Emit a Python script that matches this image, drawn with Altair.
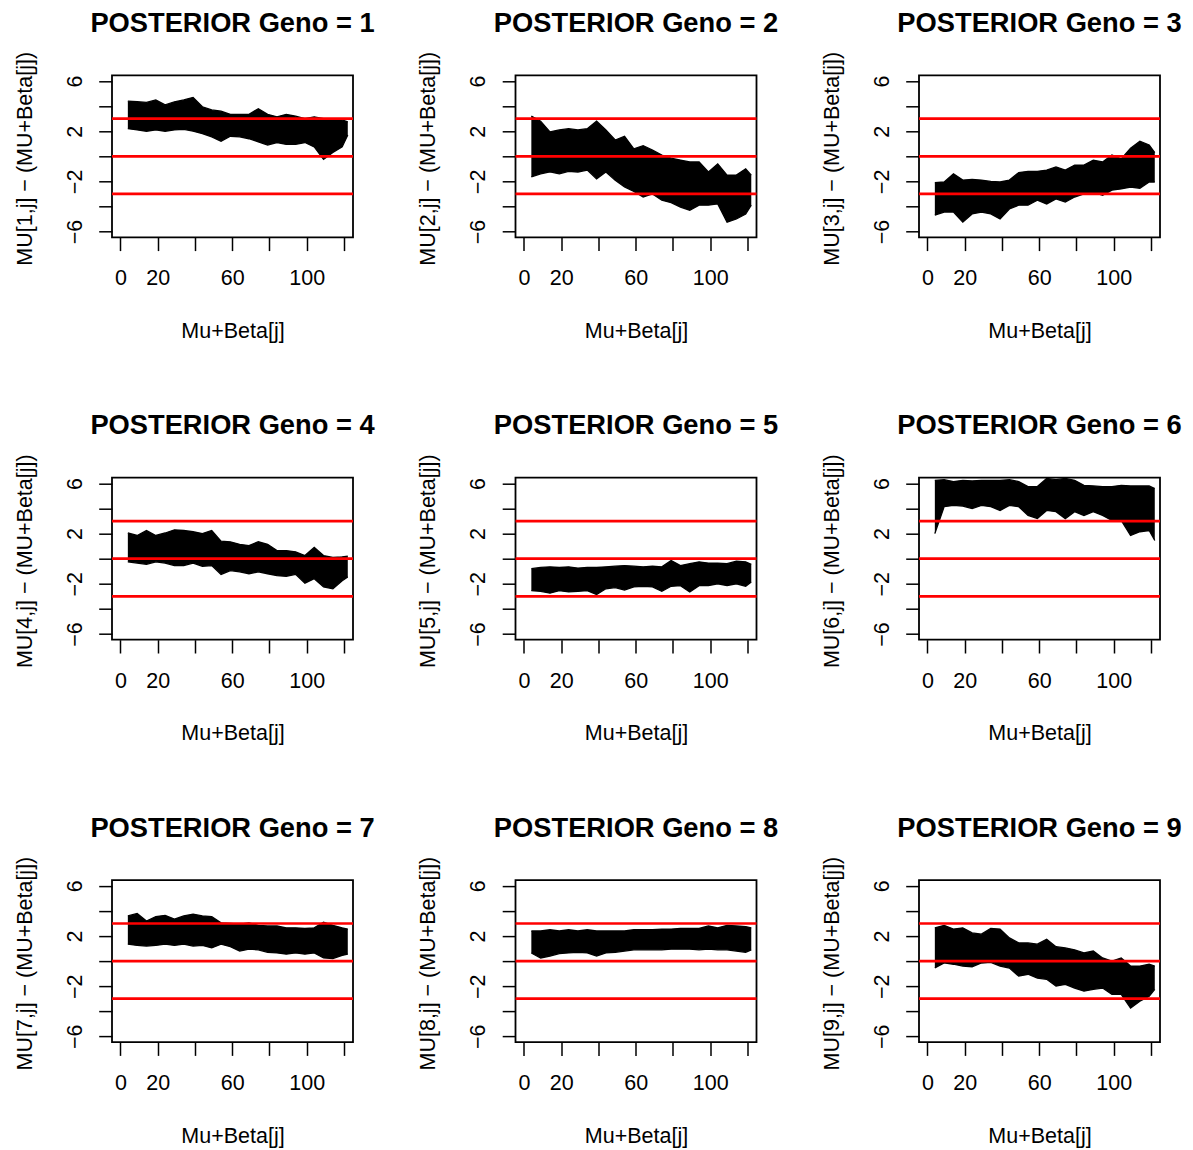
import altair as alt
import pandas as pd

# ---- data ----
x_pos = [4, 9, 14, 19, 24, 29, 34, 39, 44, 49, 54, 59, 64, 69, 74, 79, 84, 89, 94, 99, 104, 109, 114, 119, 122]

hi_1 = [4.4, 4.35, 4.3, 4.5, 4.1, 4.35, 4.5, 4.7, 3.95, 3.7, 3.6, 3.35, 3.35, 3.35, 3.8, 3.35, 3.15, 3.35, 3.2, 3.0, 3.15, 3.0, 2.9, 2.9, 2.75]
lo_1 = [2.2, 2.1, 2.0, 2.1, 2.0, 2.1, 2.15, 2.0, 1.8, 1.55, 1.2, 1.6, 1.55, 1.4, 1.15, 0.9, 1.1, 0.95, 0.95, 1.1, 0.75, -0.25, 0.3, 0.75, 1.7]

hi_2 = [3.2, 2.8, 1.95, 2.1, 2.2, 2.1, 2.2, 2.8, 2.1, 1.3, 1.6, 0.6, 0.85, 0.5, 0.1, -0.15, -0.3, -0.45, -0.45, -1.25, -0.6, -1.5, -1.5, -1.0, -1.5]
lo_2 = [-1.65, -1.4, -1.25, -1.4, -1.2, -1.25, -1.1, -1.8, -1.25, -1.9, -2.45, -2.8, -3.25, -3.0, -3.5, -3.7, -4.05, -4.3, -3.9, -3.9, -3.8, -5.25, -5.0, -4.6, -3.9]

hi_3 = [-2.1, -2.05, -1.4, -1.9, -1.85, -1.9, -2.0, -2.05, -1.9, -1.3, -1.2, -1.2, -1.1, -0.85, -1.1, -0.7, -0.7, -0.3, -0.45, 0.1, -0.2, 0.65, 1.2, 0.9, 0.3]
lo_3 = [-4.7, -4.45, -4.45, -5.25, -4.6, -4.45, -4.6, -5.0, -4.2, -3.9, -3.9, -3.5, -3.8, -3.4, -3.65, -3.25, -3.0, -2.85, -3.1, -2.7, -2.6, -2.45, -2.55, -2.05, -2.05]

hi_4 = [2.05, 1.85, 2.25, 1.85, 2.05, 2.3, 2.25, 2.15, 2.0, 2.25, 1.4, 1.35, 1.15, 1.05, 1.35, 1.15, 0.65, 0.65, 0.55, 0.25, 0.9, 0.25, 0.1, 0.15, 0.2]
lo_4 = [-0.25, -0.35, -0.45, -0.25, -0.35, -0.55, -0.55, -0.35, -0.6, -0.55, -1.25, -0.95, -1.05, -1.2, -1.05, -1.2, -1.35, -1.4, -1.25, -1.95, -1.6, -2.25, -2.4, -1.75, -1.45]

hi_5 = [-0.8, -0.7, -0.65, -0.7, -0.65, -0.75, -0.7, -0.7, -0.65, -0.6, -0.55, -0.6, -0.65, -0.6, -0.65, -0.15, -0.55, -0.4, -0.25, -0.35, -0.35, -0.4, -0.2, -0.25, -0.45]
lo_5 = [-2.55, -2.6, -2.75, -2.55, -2.65, -2.6, -2.55, -2.85, -2.4, -2.3, -2.5, -2.25, -2.2, -2.25, -2.6, -2.2, -2.15, -2.65, -2.15, -2.15, -2.0, -2.15, -2.0, -2.2, -1.85]

hi_6 = [6.25, 6.3, 6.15, 6.25, 6.2, 6.25, 6.25, 6.25, 6.3, 6.15, 5.75, 5.75, 6.4, 6.3, 6.4, 6.25, 5.85, 5.8, 5.75, 5.75, 5.85, 5.8, 5.8, 5.8, 5.6]
lo_6 = [2.0, 4.15, 4.25, 4.2, 4.0, 4.25, 4.15, 3.85, 4.25, 4.15, 3.45, 3.2, 3.85, 3.75, 3.2, 3.75, 3.45, 3.75, 3.45, 3.05, 3.05, 1.85, 2.15, 2.25, 1.45]

hi_7 = [3.6, 3.8, 3.2, 3.55, 3.65, 3.35, 3.6, 3.75, 3.6, 3.55, 3.05, 3.0, 2.95, 3.05, 2.85, 2.8, 2.8, 2.65, 2.65, 2.6, 2.65, 3.1, 2.85, 2.65, 2.55]
lo_7 = [1.35, 1.25, 1.2, 1.25, 1.35, 1.25, 1.35, 1.2, 1.25, 1.05, 1.35, 1.15, 0.8, 0.95, 0.9, 0.7, 0.65, 0.55, 0.65, 0.55, 0.65, 0.25, 0.2, 0.45, 0.55]

hi_8 = [2.4, 2.4, 2.5, 2.4, 2.5, 2.4, 2.5, 2.4, 2.4, 2.4, 2.4, 2.5, 2.5, 2.5, 2.55, 2.55, 2.6, 2.6, 2.6, 2.8, 2.65, 2.85, 2.8, 2.75, 2.65]
lo_8 = [0.65, 0.25, 0.4, 0.6, 0.65, 0.7, 0.65, 0.4, 0.65, 0.7, 0.8, 0.9, 0.9, 0.9, 0.9, 0.95, 0.95, 0.95, 0.9, 0.95, 0.9, 0.9, 0.8, 0.7, 0.9]

hi_9 = [2.65, 2.85, 2.55, 2.65, 2.25, 2.15, 2.6, 2.55, 1.85, 1.45, 1.45, 1.35, 1.75, 1.15, 1.05, 0.9, 0.65, 0.8, 0.25, 0.0, 0.25, -0.4, -0.4, -0.25, -0.4]
lo_9 = [-0.55, -0.15, -0.25, -0.4, -0.45, -0.15, -0.1, -0.4, -0.55, -1.2, -1.05, -1.35, -1.45, -2.0, -1.85, -2.15, -2.4, -2.25, -2.15, -2.65, -2.65, -3.75, -3.2, -2.8, -2.25]

genos = [1, 2, 3, 4, 5, 6, 7, 8, 9]
his = [hi_1, hi_2, hi_3, hi_4, hi_5, hi_6, hi_7, hi_8, hi_9]
los = [lo_1, lo_2, lo_3, lo_4, lo_5, lo_6, lo_7, lo_8, lo_9]

x_ticks = [0, 20, 40, 60, 80, 100, 120]
x_labels_shown = [0, 20, 60, 100]
y_ticks = [-6, -4, -2, 0, 2, 4, 6]
y_labels_shown = [-6, -2, 2, 6]
ref_lines = [-3, 0, 3]
x_title = "Mu+Beta[j]"

# ---- style ----
W, H = 241, 162
FONT = "Liberation Sans"
XS = alt.Scale(domain=[-4.5, 124.8], nice=False, zero=False)
YS = alt.Scale(domain=[-6.46, 6.46], nice=False, zero=False)

X_AXIS = alt.Axis(
    values=x_ticks, title=x_title,
    labelExpr=f"indexof({x_labels_shown}, datum.value) >= 0 ? datum.label : ''",
    labelBaseline="alphabetic", labelPadding=34.3,
    titleBaseline="alphabetic", titleY=100,
)


def y_axis(g):
    return alt.Axis(
        values=y_ticks, title=f"MU[{g},j] \u2212 (MU+Beta[j])",
        labelExpr=f"indexof({y_labels_shown}, datum.value) >= 0 ? datum.label : ''",
        labelAngle=270, labelAlign="center", labelBaseline="alphabetic", labelPadding=17.3,
        titleAngle=270, titleAlign="center", titleBaseline="alphabetic",
        titleX=-80.6, titleY=83,
    )


def panel(g, hi, lo):
    ya = y_axis(g)
    df = pd.DataFrame({"x": x_pos, "hi": hi, "lo": lo})
    long = pd.DataFrame(
        {"x": x_pos + x_pos, "y": hi + lo, "edge": ["hi"] * len(hi) + ["lo"] * len(lo)}
    )
    band = alt.Chart(df).mark_area(color="black", clip=True).encode(
        x=alt.X("x:Q", scale=XS, axis=X_AXIS),
        y=alt.Y("hi:Q", scale=YS, axis=ya),
        y2="lo:Q",
    )
    edges = alt.Chart(long).mark_line(color="black", strokeWidth=1.3, clip=True).encode(
        x=alt.X("x:Q", scale=XS, axis=X_AXIS),
        y=alt.Y("y:Q", scale=YS, axis=ya),
        detail="edge:N",
    )
    rules = alt.Chart(pd.DataFrame({"v": ref_lines})).mark_rule(color="#ff0000", strokeWidth=2.7).encode(
        y=alt.Y("v:Q", scale=YS, axis=ya)
    )
    title = alt.Chart(pd.DataFrame({"t": [f"POSTERIOR Geno = {g}"]})).mark_text(
        font=FONT, fontSize=27.3, fontWeight="bold", align="center", baseline="alphabetic", color="black"
    ).encode(x=alt.value(W / 2), y=alt.value(-43.3), text="t:N")
    return alt.layer(band, edges, rules, title).properties(width=W, height=H)


panels = [panel(g, h, l) for g, h, l in zip(genos, his, los)]

chart = alt.concat(
    *panels, columns=3, spacing={"row": 240.4, "column": 162.5}, bounds="flush"
).properties(
    padding={"left": 13, "top": 8.3, "right": 5, "bottom": 5},
    background="white",
).configure_view(
    stroke="black", strokeWidth=1.8
).configure_axis(
    labelFont=FONT, titleFont=FONT, labelFontSize=21.5, titleFontSize=21.5,
    titleFontWeight="normal", labelColor="black", titleColor="black",
    tickColor="black", tickSize=13.3, tickWidth=1.5, domain=False, grid=False,
    labelFlush=False, labelOverlap=False,
)

chart.save("out.html", embed_options={"renderer": "svg", "actions": False})
